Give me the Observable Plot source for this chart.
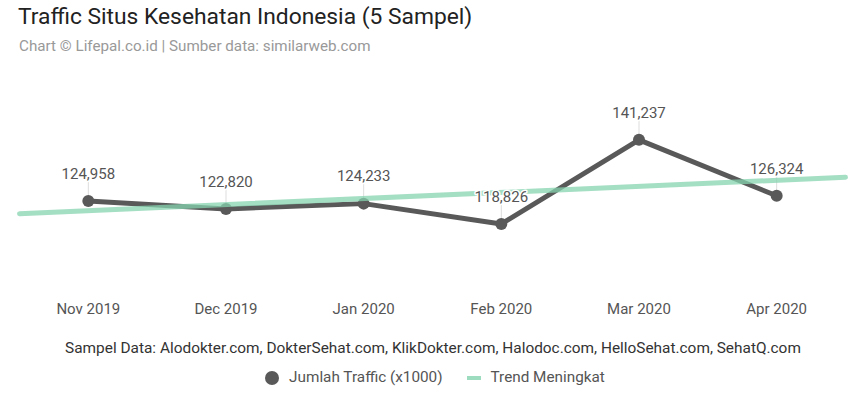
<!DOCTYPE html>
<html>
<head>
<meta charset="utf-8">
<script src="https://cdn.jsdelivr.net/npm/d3@7"></script>
<script src="https://cdn.jsdelivr.net/npm/@observablehq/plot@0.6"></script>
<style>
  html, body { margin: 0; padding: 0; background: #fff; }
  body { width: 858px; height: 397px; position: relative; overflow: hidden; font-family: Roboto, "Noto Sans", sans-serif; }
  #title { position: absolute; left: 18px; top: 3px; font-size: 22.8px; color: #222; line-height: 28px; white-space: nowrap; }
  #subtitle { position: absolute; left: 19px; top: 37px; font-size: 15.2px; color: #999; line-height: 19px; white-space: nowrap; }
  #chart { position: absolute; left: 0; top: 60px; }
  #caption { position: absolute; left: 0; width: 866px; top: 339px; text-align: center; font-size: 15.4px; color: #333; line-height: 19px; white-space: nowrap; }
  #legend { position: absolute; left: 0; width: 870px; top: 368px; display: flex; justify-content: center; align-items: center; font-size: 15.3px; color: #555; line-height: 19px; white-space: nowrap; }
  .sw-dot { width: 14px; height: 14px; border-radius: 50%; background: #595959; margin-right: 10px; }
  .sw-line { width: 14px; height: 4px; background: #9ddcbf; margin-left: 24px; margin-right: 10px; }
</style>
</head>
<body>
<div id="title">Traffic Situs Kesehatan Indonesia (5 Sampel)</div>
<div id="subtitle">Chart © Lifepal.co.id | Sumber data: similarweb.com</div>
<div id="chart"></div>
<div id="caption">Sampel Data: Alodokter.com, DokterSehat.com, KlikDokter.com, Halodoc.com, HelloSehat.com, SehatQ.com</div>
<div id="legend"><span class="sw-dot"></span><span>Jumlah Traffic (x1000)</span><span class="sw-line"></span><span>Trend Meningkat</span></div>
<script>
const months = ["Nov 2019", "Dec 2019", "Jan 2020", "Feb 2020", "Mar 2020", "Apr 2020"];
const traffic = [124958, 122820, 124233, 118826, 141237, 126324];
// Trend line end values, at the outer edges of the first and last month slots
const trendPos = [-0.5, 5.5];
const trendValues = [121540, 131260];

const data = months.map((m, i) => ({i, month: m, value: traffic[i]}));
const trend = trendPos.map((p, k) => ({i: p, value: trendValues[k]}));
const fmt = d3.format(",");

const chart = Plot.plot({
  width: 858,
  height: 270,
  marginLeft: 19,
  marginRight: 13,
  marginTop: 9,
  marginBottom: 36,
  style: {fontFamily: "Roboto, 'Noto Sans', sans-serif", background: "transparent"},
  x: {domain: [-0.5, 5.5], axis: null},
  y: {domain: [100000, 160000], axis: null},
  marks: [
    Plot.ruleX(data, {x: "i", y1: "value", y2: d => d.value + 5200, stroke: "#ddd", strokeWidth: 1}),
    Plot.line(data, {x: "i", y: "value", stroke: "#595959", strokeWidth: 5, strokeLinejoin: "round"}),
    Plot.dot(data, {x: "i", y: "value", r: 6, fill: "#595959"}),
    Plot.line(trend, {x: "i", y: "value", stroke: "#86d3af", strokeWidth: 5, strokeOpacity: 0.75}),
    Plot.text(data, {x: "i", y: "value", text: d => fmt(d.value), dy: -27, fontSize: 15, fill: "#555", stroke: "white", strokeWidth: 3}),
    Plot.text(data, {x: "i", text: "month", frameAnchor: "bottom", dy: 19, fontSize: 15, fill: "#555"})
  ]
});
document.getElementById("chart").appendChild(chart);
</script>
</body>
</html>
